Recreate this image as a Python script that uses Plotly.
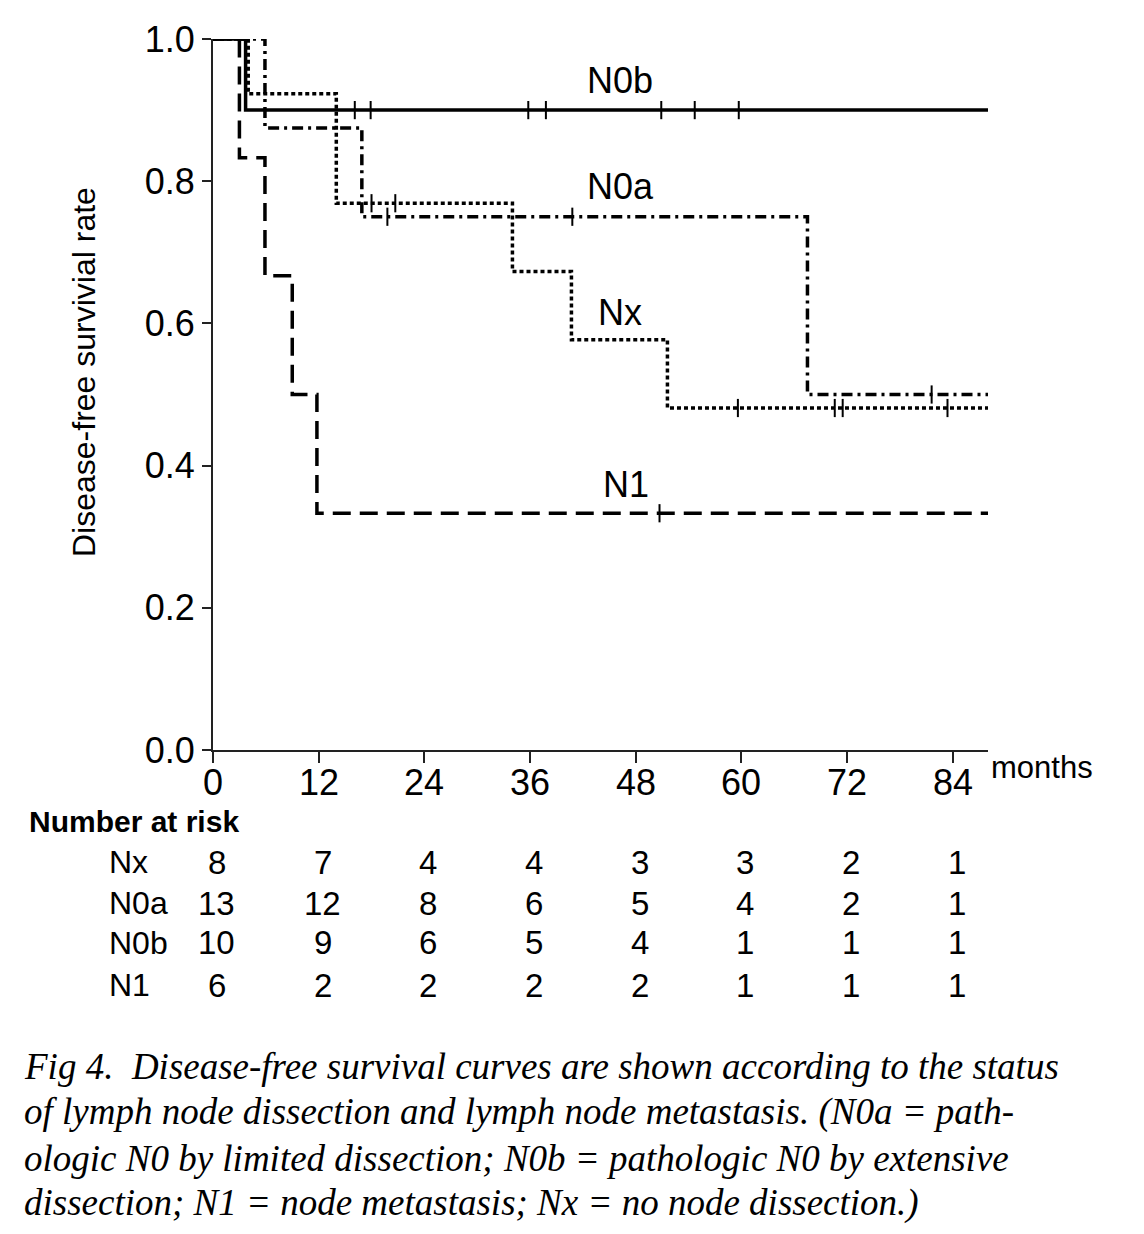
import plotly.graph_objects as go

# ---------------- data ----------------
x_end = 88

nx_times = [0, 4.0, 14.0, 34.0, 40.7, 51.6]
nx_surv = [1.0, 0.923, 0.769, 0.673, 0.577, 0.481]
nx_cens = [18.0, 20.7, 59.6, 70.6, 71.5, 83.4]

n0a_times = [0, 5.9, 16.9, 67.5]
n0a_surv = [1.0, 0.875, 0.75, 0.5]
n0a_cens = [19.8, 40.8, 81.6]

n0b_times = [0, 3.7]
n0b_surv = [1.0, 0.9]
n0b_cens = [16.1, 17.9, 35.8, 37.8, 50.9, 54.7, 59.7]

n1_times = [0, 3.0, 5.9, 9.0, 11.8]
n1_surv = [1.0, 0.833, 0.667, 0.5, 0.333]
n1_cens = [50.7]

risk_times = [0, 12, 24, 36, 48, 60, 72, 84]
risk_groups = ["Nx", "N0a", "N0b", "N1"]
risk_nx = [8, 7, 4, 4, 3, 3, 2, 1]
risk_n0a = [13, 12, 8, 6, 5, 4, 2, 1]
risk_n0b = [10, 9, 6, 5, 4, 1, 1, 1]
risk_n1 = [6, 2, 2, 2, 2, 1, 1, 1]

x_ticks = [0, 12, 24, 36, 48, 60, 72, 84]
y_ticks = [0.0, 0.2, 0.4, 0.6, 0.8, 1.0]

caption_lines = [
    "Fig 4.  Disease-free survival curves are shown according to the status",
    "of lymph node dissection and lymph node metastasis. (N0a = path-",
    "ologic N0 by limited dissection; N0b = pathologic N0 by extensive",
    "dissection; N1 = node metastasis; Nx = no node dissection.)",
]

# ---------------- layout constants (page pixels) ----------------
OFF = 8  # body margin of the html page
W, H = 1144 - 2 * OFF, 1234 - 2 * OFF
L, R, T, B = 213, 988, 39, 750
FONT = "Liberation Sans, Arial, sans-serif"


def px_x(p):
    return (p - L) / (R - L)


def px_y(p):
    return (B - p) / (B - T)


def step_val(times, surv, t):
    v = surv[0]
    for tt, s in zip(times, surv):
        if t >= tt:
            v = s
    return v


fig = go.Figure()

series = [
    ("Nx", nx_times, nx_surv, nx_cens, "4px,3px", 3.5),
    ("N0a", n0a_times, n0a_surv, n0a_cens, "11px,5px,3px,5px", 3.5),
    ("N0b", n0b_times, n0b_surv, n0b_cens, "solid", 3.5),
    ("N1", n1_times, n1_surv, n1_cens, "18px,9px", 3.5),
]

for name, times, surv, cens, dash, lw in series:
    fig.add_trace(go.Scatter(
        x=list(times) + [x_end], y=list(surv) + [surv[-1]],
        mode="lines", line=dict(shape="hv", color="black", width=lw, dash=dash),
        name=name, showlegend=False, hoverinfo="skip"))
    fig.add_trace(go.Scatter(
        x=cens, y=[step_val(times, surv, c) for c in cens],
        mode="markers",
        marker=dict(symbol="line-ns", size=13, line=dict(color="black", width=2)),
        showlegend=False, hoverinfo="skip"))

fig.update_layout(
    width=W, height=H,
    margin=dict(l=L - OFF, r=(W + OFF) - R, t=T - OFF, b=(H + OFF) - B, pad=0),
    paper_bgcolor="white", plot_bgcolor="white",
    font=dict(family=FONT, color="black"),
    xaxis=dict(range=[0, x_end], tickvals=x_ticks, showticklabels=False,
               showgrid=False, zeroline=False, showline=True, linecolor="#222", linewidth=2,
               ticks="outside", ticklen=11, tickwidth=2, tickcolor="#222"),
    yaxis=dict(range=[0, 1.0], tickvals=y_ticks, ticktext=["%.1f" % v for v in y_ticks],
               showgrid=False, zeroline=False, showline=True, linecolor="#222", linewidth=2,
               ticks="outside", ticklen=9, tickwidth=2, tickcolor="#222",
               tickfont=dict(size=36, family=FONT, color="black")),
)

ann = []
# x tick labels
for t in x_ticks:
    ann.append(dict(text=str(t), x=t, y=px_y(782), xref="x", yref="paper", showarrow=False,
                    font=dict(size=36, family=FONT), xanchor="center", yanchor="middle"))
# y-axis title
ann.append(dict(text="Disease-free survivial rate", x=px_x(84), y=px_y(372), xref="paper", yref="paper",
                textangle=-90, showarrow=False, font=dict(size=32, family=FONT),
                xanchor="center", yanchor="middle"))
# months label
ann.append(dict(text="months", x=px_x(989), y=px_y(768), xref="paper", yref="paper",
                showarrow=False, font=dict(size=31, family=FONT), xanchor="left", yanchor="middle"))
# curve labels
for txt, cx, cy in [("N0b", 620, 80), ("N0a", 620, 187), ("Nx", 620, 312), ("N1", 626, 484)]:
    ann.append(dict(text=txt, x=px_x(cx), y=px_y(cy), xref="paper", yref="paper", showarrow=False,
                    font=dict(size=36, family=FONT), xanchor="center", yanchor="middle"))
# number at risk
ann.append(dict(text="<b>Number at risk</b>", x=px_x(27), y=px_y(821), xref="paper", yref="paper",
                showarrow=False, font=dict(size=30, family=FONT), xanchor="left", yanchor="middle"))
rows = [risk_nx, risk_n0a, risk_n0b, risk_n1]
row_y = [862, 903, 943, 985]
for g, vals, ry in zip(risk_groups, rows, row_y):
    ann.append(dict(text=g, x=px_x(107), y=px_y(ry), xref="paper", yref="paper", showarrow=False,
                    font=dict(size=32, family=FONT), xanchor="left", yanchor="middle"))
    for t, v in zip(risk_times, vals):
        ann.append(dict(text=str(v), x=t + 0.45, y=px_y(ry), xref="x", yref="paper", showarrow=False,
                        font=dict(size=33, family=FONT), xanchor="center", yanchor="middle"))
# caption
cap_y = [1066, 1112, 1158, 1203]
for line, cy in zip(caption_lines, cap_y):
    ann.append(dict(text="<i>" + line + "</i>", x=px_x(22), y=px_y(cy), xref="paper", yref="paper",
                    showarrow=False, font=dict(size=37, family="Liberation Serif, Times New Roman, serif"),
                    xanchor="left", yanchor="middle"))

fig.update_layout(annotations=ann)
fig.write_html("out.html")
